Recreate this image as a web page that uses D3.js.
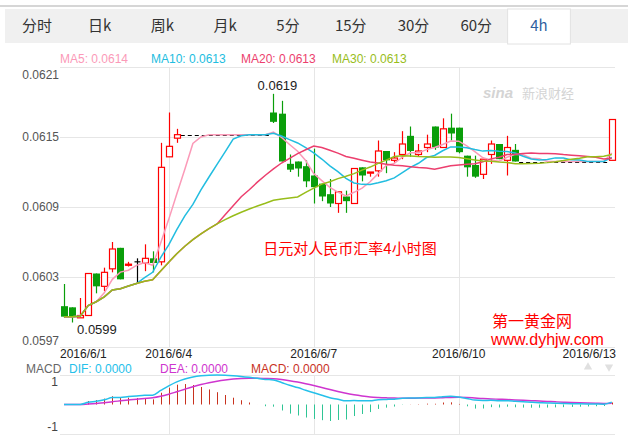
<!DOCTYPE html>
<html>
<head>
<meta charset="utf-8">
<script src="https://cdn.jsdelivr.net/npm/d3@7"></script>
<style>
  body { margin: 0; background: #fff; }
  svg text { font-family: Arial, "Liberation Sans", "Noto Sans CJK SC", sans-serif; }
</style>
</head>
<body>
<div id="chart"></div>
<script>
// period tabs
const tabs = ['分时', '日k', '周k', '月k', '5分', '15分', '30分', '60分', '4h'];

// 4h candles: slot index on the time axis (weekend slots have no candle)
const slot = [0, 1, 2, 3, 4, 5, 6, 7, 8, 9, 10, 11, 12, 13, 14,
              26, 27, 28, 29, 30, 31, 32, 33, 34, 35, 36, 37, 38, 39, 40, 41,
              42, 43, 44, 45, 46, 47, 48, 49, 50, 51, 52, 53, 54, 55, 56,
              68];
const open = [0.06005, 0.06004, 0.05995, 0.05997, 0.06033, 0.06022, 0.06037, 0.06055, 0.06040, 0.06043,
              0.06042, 0.06046, 0.06043, 0.06133, 0.06149,
              0.06171, 0.06170, 0.06127, 0.06129, 0.06125, 0.06117, 0.06110, 0.06101, 0.06093, 0.06099,
              0.06093, 0.06124, 0.06119, 0.06121, 0.06138, 0.06130, 0.06135, 0.06151, 0.06135, 0.06141,
              0.06159, 0.06141, 0.06158, 0.06158, 0.06134, 0.06126, 0.06118, 0.06135, 0.06144, 0.06130,
              0.06139, 0.06130];
const high = [0.06024, 0.06004, 0.06012, 0.06033, 0.06033, 0.06038, 0.06060, 0.06055, 0.06043, 0.06046,
              0.06058, 0.06052, 0.06145, 0.06171, 0.06157,
              0.06187, 0.06181, 0.06135, 0.06129, 0.06130, 0.06140, 0.06110, 0.06114, 0.06103, 0.06104,
              0.06123, 0.06124, 0.06120, 0.06147, 0.06138, 0.06137, 0.06155, 0.06159, 0.06144, 0.06152,
              0.06159, 0.06166, 0.06170, 0.06158, 0.06134, 0.06134, 0.06131, 0.06147, 0.06144, 0.06151,
              0.06144, 0.06165];
const low  = [0.05995, 0.05991, 0.05995, 0.05997, 0.06016, 0.06018, 0.06034, 0.06028, 0.06039, 0.06025,
              0.06035, 0.06034, 0.06040, 0.06133, 0.06145,
              0.06162, 0.06129, 0.06120, 0.06116, 0.06107, 0.06093, 0.06095, 0.06090, 0.06085, 0.06085,
              0.06093, 0.06112, 0.06116, 0.06116, 0.06119, 0.06128, 0.06131, 0.06133, 0.06133, 0.06137,
              0.06139, 0.06141, 0.06147, 0.06136, 0.06116, 0.06115, 0.06114, 0.06127, 0.06131, 0.06117,
              0.06129, 0.06130];
const close = [0.05996, 0.05996, 0.05997, 0.06033, 0.06022, 0.06034, 0.06054, 0.06028, 0.06041, 0.06043,
               0.06046, 0.06042, 0.06124, 0.06142, 0.06152,
               0.06163, 0.06129, 0.06122, 0.06123, 0.06112, 0.06107, 0.06099, 0.06093, 0.06103, 0.06095,
               0.06123, 0.06117, 0.06120, 0.06138, 0.06130, 0.06132, 0.06144, 0.06138, 0.06138, 0.06144,
               0.06141, 0.06157, 0.06153, 0.06137, 0.06124, 0.06116, 0.06131, 0.06144, 0.06131, 0.06141,
               0.06129, 0.06165];

const dateLabels = ['2016/6/1', '2016/6/4', '2016/6/7', '2016/6/10', '2016/6/13'];
const dateSlots = [0, 13, 31, 49, 67];
const gridSlots = [13, 31, 49];
const yTicks = [0.0597, 0.0603, 0.0609, 0.0615, 0.0621];

const maPeriods = [5, 10, 20, 30];
const maNames = ['MA5', 'MA10', 'MA20', 'MA30'];
const maValues = ['0.0614', '0.0613', '0.0613', '0.0613'];
const maColors = ['#fb9ab8', '#22bde0', '#ec3f6e', '#98bd1a'];

const macdNames = ['DIF', 'DEA', 'MACD'];
const macdValues = ['0.0000', '0.0000', '0.0000'];

const width = 628, height = 438;
const svg = d3.select('#chart').append('svg')
    .attr('width', width).attr('height', height);

// ---- tab bar
svg.append('rect').attr('x', 0).attr('y', 5).attr('width', width).attr('height', 2).attr('fill', '#d6d6d6');
svg.append('rect').attr('x', 5).attr('y', 9).attr('width', width - 5).attr('height', 34).attr('fill', '#f0f0f0');
const tabX = d3.scalePoint().domain(tabs).range([37, 539]);
const tabW = tabX.step();
svg.append('rect')
    .attr('x', tabX('4h') - tabW / 2).attr('y', 9)
    .attr('width', tabW).attr('height', 35)
    .attr('fill', '#fff').attr('stroke', '#e2e2e2');
svg.selectAll('.tab').data(tabs).enter().append('text')
    .attr('x', d => tabX(d)).attr('y', 31)
    .attr('text-anchor', 'middle')
    .style('font-family', '"Noto Sans CJK SC", sans-serif')
    .style('font-size', '15px')
    .attr('fill', d => d === '4h' ? '#2f5f9f' : '#333')
    .text(d => d);

// ---- scales
const pLeft = 60, pRight = 615, pTop = 67, pBottom = 347;
const x = d3.scaleLinear().domain([0, 68]).range([64, 611.8]);
const y = d3.scaleLinear().domain([0.0597, 0.0621]).range([pBottom, pTop]);

// grid
const grid = svg.append('g');
yTicks.forEach(t => {
  grid.append('line').attr('x1', pLeft).attr('x2', pRight)
      .attr('y1', Math.round(y(t)) + 0.5).attr('y2', Math.round(y(t)) + 0.5)
      .attr('stroke', '#e6e6e6');
});
gridSlots.forEach(s => {
  const gx = Math.round(x(s)) + 0.5;
  grid.append('line').attr('x1', gx).attr('x2', gx).attr('y1', pTop).attr('y2', pBottom).attr('stroke', '#e6e6e6');
  grid.append('line').attr('x1', gx).attr('x2', gx).attr('y1', 375).attr('y2', 434).attr('stroke', '#e6e6e6');
});

// y labels
svg.selectAll('.ylab').data(yTicks).enter().append('text')
    .attr('x', 59).attr('text-anchor', 'end')
    .attr('y', d => Math.min(Math.max(y(d), 75), 341) + 4)
    .style('font-size', '12px').attr('fill', '#555')
    .text(d => d.toFixed(4));

// x labels
svg.selectAll('.xlab').data(dateLabels).enter().append('text')
    .attr('x', (d, i) => i === 0 ? pLeft : (i === dateLabels.length - 1 ? pRight + 1 : x(dateSlots[i])))
    .attr('y', 358)
    .attr('text-anchor', (d, i) => i === 0 ? 'start' : (i === dateLabels.length - 1 ? 'end' : 'middle'))
    .style('font-size', '12px').attr('fill', '#222')
    .text(d => d);

// MA legend
const maLegendX = [60, 151, 241, 332];
maNames.forEach((n, i) => {
  svg.append('text').attr('x', maLegendX[i]).attr('y', 63)
     .style('font-size', '12px').attr('fill', maColors[i])
     .text(n + ': ' + maValues[i]);
});

// watermark
const wm = svg.append('g').attr('fill', '#d4d4d4');
wm.append('text').attr('x', 483).attr('y', 98)
  .style('font-size', '15px').style('font-style', 'italic').style('font-weight', 'bold').text('sina');
wm.append('text').attr('x', 522).attr('y', 98)
  .style('font-size', '13px').style('font-family', '"Noto Sans CJK SC", sans-serif').text('新浪财经');

// ---- continuous close series (weekend slots keep the last close)
const nSlots = 69;
const filled = [];
let k = 0, last = close[0];
for (let s = 0; s < nSlots; s++) {
  if (k < slot.length && slot[k] === s) { last = close[k]; k++; }
  filled.push(last);
}

// dashed lines across the gaps
for (let i = 0; i < slot.length - 1; i++) {
  if (slot[i + 1] - slot[i] > 1) {
    svg.append('line')
      .attr('x1', x(slot[i]) + 4).attr('x2', x(slot[i + 1]) - 4)
      .attr('y1', Math.round(y(close[i])) + 0.5).attr('y2', Math.round(y(close[i])) + 0.5)
      .attr('stroke', '#000').attr('stroke-dasharray', '4,3');
  }
}

// candles
const candles = svg.append('g');
slot.forEach((s, i) => {
  const cx = Math.round(x(s)) + 0.5;
  const up = close[i] > open[i];
  const flat = close[i] === open[i];
  const col = flat ? '#000' : (up ? '#f00' : '#0a9e0a');
  candles.append('line').attr('x1', cx).attr('x2', cx)
    .attr('y1', y(high[i])).attr('y2', y(low[i]))
    .attr('stroke', col).attr('stroke-width', 1.2);
  const yt = y(Math.max(open[i], close[i]));
  const yb = y(Math.min(open[i], close[i]));
  if (flat) {
    candles.append('line').attr('x1', cx - 3).attr('x2', cx + 3)
      .attr('y1', yt).attr('y2', yt).attr('stroke', col).attr('stroke-width', 1.2);
  } else if (up) {
    candles.append('rect').attr('x', cx - 3).attr('y', yt)
      .attr('width', 6).attr('height', Math.max(yb - yt, 1))
      .attr('fill', '#fff').attr('stroke', col).attr('stroke-width', 1.2);
  } else {
    candles.append('rect').attr('x', cx - 3.5).attr('y', yt)
      .attr('width', 7).attr('height', Math.max(yb - yt, 1.5))
      .attr('fill', col);
  }
});

// moving averages
const line = d3.line().x((d, i) => x(i)).y(d => y(d));
maPeriods.forEach((p, j) => {
  const ma = filled.map((c, s) => d3.mean(filled.slice(Math.max(0, s - p + 1), s + 1)));
  svg.append('path').datum(ma).attr('d', line)
     .attr('fill', 'none').attr('stroke', maColors[j]).attr('stroke-width', 1.5);
});

// max / min labels
const hi = d3.maxIndex(high), lo = d3.minIndex(low);
svg.append('text').attr('x', x(slot[hi]) + 4).attr('y', y(high[hi]) - 4)
   .attr('text-anchor', 'middle').style('font-size', '13px').attr('fill', '#222')
   .text(high[hi].toFixed(4));
svg.append('text').attr('x', x(slot[lo]) + 5).attr('y', y(low[lo]) + 11)
   .style('font-size', '13px').attr('fill', '#222')
   .text(low[lo].toFixed(4));

// titles
svg.append('text').attr('x', 350).attr('y', 254).attr('text-anchor', 'middle')
   .style('font-family', '"Noto Sans CJK SC", sans-serif').style('font-size', '15px')
   .attr('fill', '#f00').text('日元对人民币汇率4小时图');
svg.append('text').attr('x', 492).attr('y', 327)
   .style('font-family', '"Noto Sans CJK SC", sans-serif').style('font-size', '16px')
   .attr('fill', '#f00').text('第一黄金网');
svg.append('text').attr('x', 491).attr('y', 345)
   .style('font-size', '16px').attr('fill', '#f00').text('www.dyhjw.com');

// ---- MACD
const ema = (arr, n) => {
  const a = 2 / (n + 1), out = [arr[0]];
  for (let i = 1; i < arr.length; i++) out.push(out[i - 1] + a * (arr[i] - out[i - 1]));
  return out;
};
const e12 = ema(filled, 12), e26 = ema(filled, 26);
const dif = e12.map((v, i) => v - e26[i]);
const dea = [0];
for (let i = 1; i < dif.length; i++) dea.push(dea[i - 1] + 0.2 * (dif[i] - dea[i - 1]));
const hist = dif.map((v, i) => 2 * (v - dea[i]));

const mMax = d3.max([...dif, ...dea, ...hist], v => Math.abs(v));
const my = d3.scaleLinear().domain([-mMax, mMax]).range([434, 375]);

svg.append('line').attr('x1', pLeft).attr('x2', pRight).attr('y1', 375.5).attr('y2', 375.5).attr('stroke', '#e6e6e6');
svg.append('line').attr('x1', pLeft).attr('x2', pRight).attr('y1', 434.5).attr('y2', 434.5).attr('stroke', '#e6e6e6');

svg.selectAll('.hbar').data(hist).enter().append('line')
   .attr('x1', (d, i) => Math.round(x(i)) + 0.5).attr('x2', (d, i) => Math.round(x(i)) + 0.5)
   .attr('y1', my(0)).attr('y2', d => my(d))
   .attr('stroke', d => d >= 0 ? '#c8321e' : '#2fc595').attr('stroke-width', 1);

const mline = d3.line().x((d, i) => x(i)).y(d => my(d)).curve(d3.curveMonotoneX);
svg.append('path').datum(dea).attr('d', mline).attr('fill', 'none').attr('stroke', '#cf35cf').attr('stroke-width', 1.5);
svg.append('path').datum(dif).attr('d', mline).attr('fill', 'none').attr('stroke', '#25c0ea').attr('stroke-width', 1.5);

// MACD axis labels (+/-1 marks)
svg.append('text').attr('x', 58).attr('y', my(mMax * 0.75) + 4).attr('text-anchor', 'end')
   .style('font-size', '12px').attr('fill', '#444').text('1');
svg.append('text').attr('x', 58).attr('y', my(-mMax * 0.75) + 4).attr('text-anchor', 'end')
   .style('font-size', '12px').attr('fill', '#444').text('-1');

// MACD legend
svg.append('text').attr('x', 26).attr('y', 373).style('font-size', '12px').attr('fill', '#666').text('MACD');
const macdColors = ['#25c0ea', '#cf35cf', '#c8321e'];
const macdX = [69, 160, 251];
macdNames.forEach((n, i) => {
  svg.append('text').attr('x', macdX[i]).attr('y', 373).style('font-size', '12px')
     .attr('fill', macdColors[i]).text(n + ': ' + macdValues[i]);
});
// small arrows on the right
svg.append('path').attr('d', d3.symbol(d3.symbolTriangle, 30)()).attr('transform', 'translate(588,367)').attr('fill', '#e0e0e0');
svg.append('path').attr('d', d3.symbol(d3.symbolTriangle, 30)()).attr('transform', 'translate(609,367) rotate(180)').attr('fill', '#e0e0e0');
</script>
</body>
</html>
